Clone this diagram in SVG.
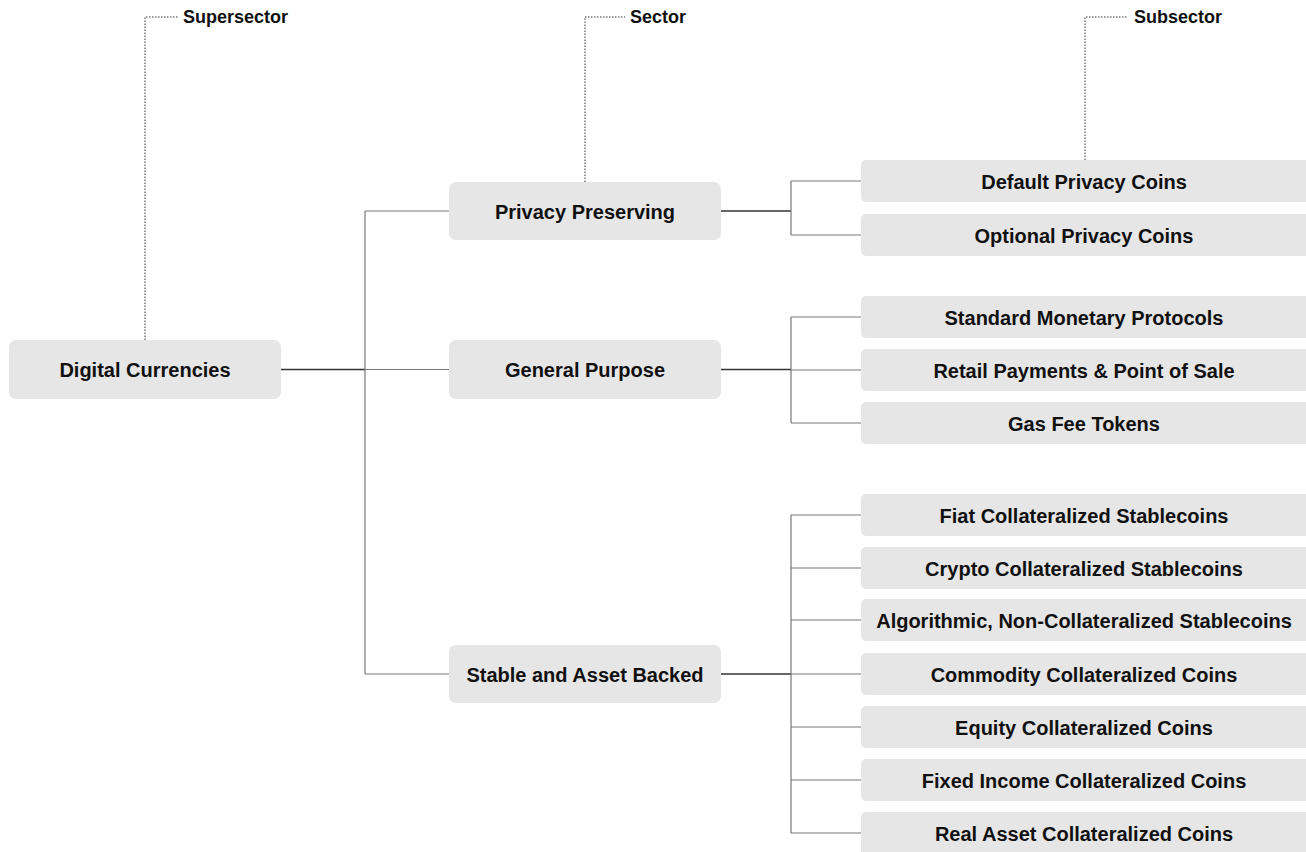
<svg xmlns="http://www.w3.org/2000/svg" width="1306" height="852" viewBox="0 0 1306 852">
<style>
.box{fill:#e6e6e6;}
.t{font-family:"Liberation Sans",Arial,sans-serif;font-weight:bold;font-size:20px;fill:#111;text-anchor:middle;dominant-baseline:central;}
.h{font-family:"Liberation Sans",Arial,sans-serif;font-weight:bold;font-size:18px;fill:#111;dominant-baseline:central;}
.c{fill:none;stroke:#777;stroke-width:1.2;}
.s{fill:none;stroke:#333;stroke-width:1.6;}
.d{fill:none;stroke:#777;stroke-width:1.5;stroke-dasharray:1.5 1.5;}
</style>
<rect width="1306" height="852" fill="#fff"/>
<g id="legend">
<path class="d" d="M145,340 V17 H178"/>
<text class="h" x="183" y="17">Supersector</text>
<path class="d" d="M585,182 V17 H625"/>
<text class="h" x="630" y="17">Sector</text>
<path class="d" d="M1085,160 V17 H1128"/>
<text class="h" x="1134" y="17">Subsector</text>
</g>
<g id="connectors">
<path class="s" d="M281,369.5 H365"/>
<path class="c" d="M365,211 V674 M365,211 H449 M365,369.5 H449 M365,674 H449"/>
<path class="s" d="M721,211 H791"/>
<path class="c" d="M791,181 V235 M791,181 H861 M791,235 H861"/>
<path class="s" d="M721,369.5 H791"/>
<path class="c" d="M791,317 V423 M791,317 H861 M791,370 H861 M791,423 H861"/>
<path class="s" d="M721,674 H791"/>
<path class="c" d="M791,515 V833 M791,515 H861 M791,568 H861 M791,620 H861 M791,674 H861 M791,727 H861 M791,780 H861 M791,833 H861"/>
</g>
<g id="n-digital"><rect class="box" x="9" y="340" width="272" height="59" rx="7"/><text class="t" x="145" y="370">Digital Currencies</text></g>
<g id="n-privacy"><rect class="box" x="449" y="182" width="272" height="58" rx="7"/><text class="t" x="585" y="212">Privacy Preserving</text></g>
<g id="n-general"><rect class="box" x="449" y="340" width="272" height="59" rx="7"/><text class="t" x="585" y="370">General Purpose</text></g>
<g id="n-stable"><rect class="box" x="449" y="645" width="272" height="58" rx="7"/><text class="t" x="585" y="675">Stable and Asset Backed</text></g>
<g id="n-default"><rect class="box" x="861" y="160" width="450" height="42" rx="5"/><text class="t" x="1084" y="182">Default Privacy Coins</text></g>
<g id="n-optional"><rect class="box" x="861" y="214" width="450" height="42" rx="5"/><text class="t" x="1084" y="236">Optional Privacy Coins</text></g>
<g id="n-standard"><rect class="box" x="861" y="296" width="450" height="42" rx="5"/><text class="t" x="1084" y="318">Standard Monetary Protocols</text></g>
<g id="n-retail"><rect class="box" x="861" y="349" width="450" height="42" rx="5"/><text class="t" x="1084" y="371">Retail Payments &amp; Point of Sale</text></g>
<g id="n-gas"><rect class="box" x="861" y="402" width="450" height="42" rx="5"/><text class="t" x="1084" y="424">Gas Fee Tokens</text></g>
<g id="n-fiat"><rect class="box" x="861" y="494" width="450" height="42" rx="5"/><text class="t" x="1084" y="516">Fiat Collateralized Stablecoins</text></g>
<g id="n-crypto"><rect class="box" x="861" y="547" width="450" height="42" rx="5"/><text class="t" x="1084" y="569">Crypto Collateralized Stablecoins</text></g>
<g id="n-algo"><rect class="box" x="861" y="599" width="450" height="42" rx="5"/><text class="t" x="1084" y="621">Algorithmic, Non-Collateralized Stablecoins</text></g>
<g id="n-commodity"><rect class="box" x="861" y="653" width="450" height="42" rx="5"/><text class="t" x="1084" y="675">Commodity Collateralized Coins</text></g>
<g id="n-equity"><rect class="box" x="861" y="706" width="450" height="42" rx="5"/><text class="t" x="1084" y="728">Equity Collateralized Coins</text></g>
<g id="n-fixed"><rect class="box" x="861" y="759" width="450" height="42" rx="5"/><text class="t" x="1084" y="781">Fixed Income Collateralized Coins</text></g>
<g id="n-real"><rect class="box" x="861" y="812" width="450" height="45" rx="5"/><text class="t" x="1084" y="834">Real Asset Collateralized Coins</text></g>
</svg>
